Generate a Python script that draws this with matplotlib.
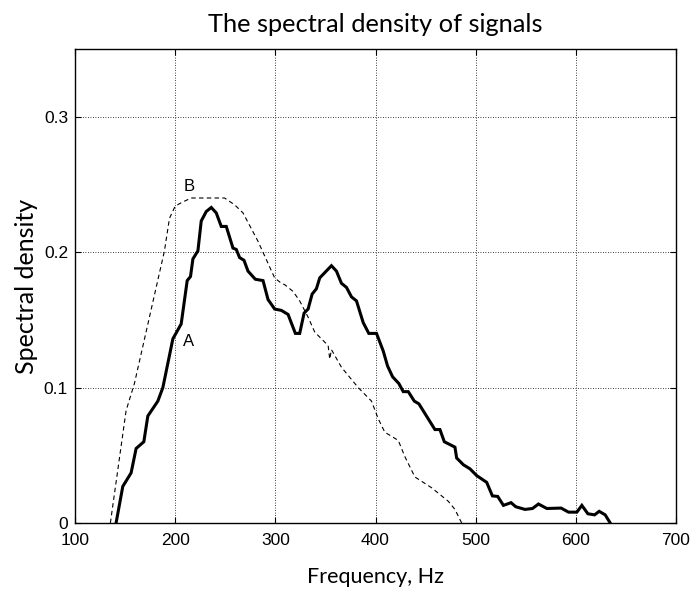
import matplotlib
matplotlib.use("Agg")
import matplotlib.pyplot as plt

# Curve A (solid)
freq_a = [141, 147.7, 156, 161, 168.7, 172.7, 182.7, 187.7, 197.7, 206, 212, 215.3, 217.7,
          222.7, 226, 231, 236, 241, 246, 251, 257.7, 261, 264.3, 268.7, 272.7, 280, 287.7,
          292.7, 299.3, 306, 312.7, 320, 324.3, 328.7, 332.7, 336.7, 341, 344.3, 356, 361,
          366, 371, 376, 381, 387.7, 393.3, 401, 407.7, 412, 417, 423.3, 427.7, 432.7,
          438.7, 443.3, 459.3, 464.3, 468.7, 479.3, 481, 487.7, 494.3, 501, 511, 516.7,
          522, 527.7, 535.3, 540, 549.3, 556.7, 562.7, 571, 585.3, 592.7, 601, 606, 612,
          618.7, 623.3, 629.3, 634.3]
dens_a = [0.0, 0.027, 0.037, 0.055, 0.060, 0.079, 0.090, 0.100, 0.136, 0.147, 0.179, 0.182,
          0.195, 0.201, 0.223, 0.230, 0.233, 0.229, 0.219, 0.219, 0.203, 0.202, 0.196, 0.194,
          0.186, 0.180, 0.179, 0.165, 0.158, 0.157, 0.154, 0.140, 0.140, 0.155, 0.158, 0.169,
          0.173, 0.181, 0.190, 0.186, 0.177, 0.174, 0.167, 0.164, 0.148, 0.140, 0.140, 0.127,
          0.116, 0.108, 0.103, 0.097, 0.097, 0.090, 0.088, 0.069, 0.069, 0.060, 0.056, 0.048,
          0.043, 0.040, 0.035, 0.030, 0.020, 0.0196, 0.013, 0.015, 0.012, 0.010, 0.0107,
          0.014, 0.0107, 0.011, 0.008, 0.008, 0.013, 0.0068, 0.006, 0.0086, 0.006, 0.0]

# Curve B (dashed)
freq_b = [135.3, 151, 159.3, 189.3, 194.3, 200, 206, 216, 249.3, 259.3, 267.7, 282.7, 299.3,
          306, 309.3, 317.7, 324.3, 332.7, 339.3, 352.7, 354.3, 356, 366, 382.7, 396, 402.7,
          409.3, 422.7, 429.3, 439.3, 456, 472.7, 479.3, 486]
dens_b = [0.0, 0.083, 0.103, 0.201, 0.225, 0.234, 0.2365, 0.240, 0.240, 0.235, 0.229, 0.208,
          0.181, 0.177, 0.176, 0.171, 0.164, 0.152, 0.141, 0.131, 0.121, 0.128, 0.115, 0.100,
          0.090, 0.077, 0.067, 0.061, 0.049, 0.034, 0.026, 0.016, 0.010, 0.0]

x_ticks = [100, 200, 300, 400, 500, 600, 700]
x_tick_labels = ["100", "200", "300", "400", "500", "600", "700"]
y_ticks = [0, 0.1, 0.2, 0.3]
y_tick_labels = ["0", "0.1", "0.2", "0.3"]

title = "The spectral density of signals"
xlabel = "Frequency, Hz"
ylabel = "Spectral density"

fig = plt.figure(figsize=(6.92, 5.91), dpi=100)
ax = fig.add_axes([0.1084, 0.1151, 0.8685, 0.8019])

ax.plot(freq_b, dens_b, color="black", lw=0.8, linestyle=(0, (4, 3)))
ax.plot(freq_a, dens_a, color="black", lw=2.2, solid_joinstyle="miter")

ax.set_xlim(100, 700)
ax.set_ylim(0, 0.35)
ax.set_xticks(x_ticks)
ax.set_xticklabels(x_tick_labels)
ax.set_yticks(y_ticks)
ax.set_yticklabels(y_tick_labels)

for lbl in ax.get_xticklabels() + ax.get_yticklabels():
    lbl.set_fontfamily("Liberation Sans")
    lbl.set_fontsize(12.5)

ax.tick_params(direction="in", top=True, right=True, length=4, width=0.8)
ax.tick_params(axis="x", pad=7)
ax.tick_params(axis="y", pad=5)
ax.grid(True, color="black", linestyle=(0, (1, 2)), linewidth=0.6)
for s in ax.spines.values():
    s.set_linewidth(1.0)

label_font = "Lato"
ax.set_title(title, fontsize=18.3, family=label_font, pad=12)
ax.set_xlabel(xlabel, fontsize=15.5, family=label_font, labelpad=14)
ax.set_ylabel(ylabel, fontsize=18, family=label_font, labelpad=4)

ax.text(214, 0.2485, "B", fontsize=12, family="Liberation Sans", ha="center", va="center")
ax.text(213.5, 0.134, "A", fontsize=12, family="Liberation Sans", ha="center", va="center")

fig.savefig("out.png", dpi=100)
